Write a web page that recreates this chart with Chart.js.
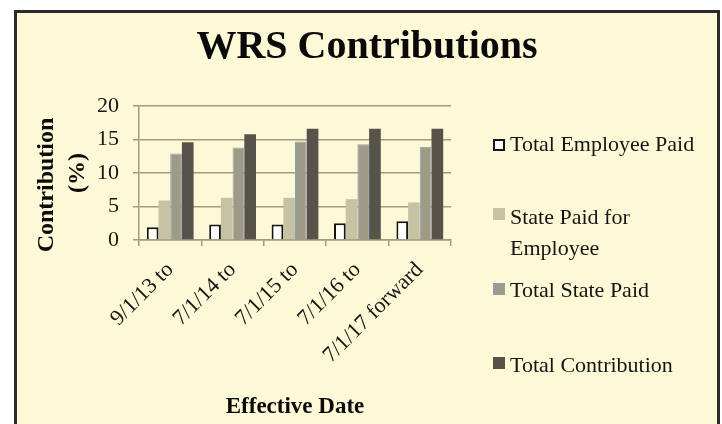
<!DOCTYPE html>
<html>
<head>
<meta charset="utf-8">
<script src="https://cdn.jsdelivr.net/npm/chart.js@4.4.1/dist/chart.umd.min.js"></script>
<style>
  html, body { margin: 0; padding: 0; background: #ffffff; overflow: hidden; }
  #frame {
    position: absolute; left: 14px; top: 10px; width: 700px; height: 440px;
    border: 3px solid #2b2b2b; background: #fdf8d6;
  }
  #myChart { position: absolute; left: 0; top: 0; }
</style>
</head>
<body>
<div id="frame"></div>
<canvas id="myChart" width="722" height="424"></canvas>
<script>
/**
 * WRS Contributions - grouped bar chart
 */
const categories = ['9/1/13 to', '7/1/14 to', '7/1/15 to', '7/1/16 to', '7/1/17 forward'];
const seriesNames = ['Total Employee Paid', 'State Paid for Employee', 'Total State Paid', 'Total Contribution'];
const employeePaid = [1.9, 2.3, 2.3, 2.5, 2.8];
const statePaidForEmployee = [5.9, 6.3, 6.3, 6.1, 5.6];
const totalStatePaid = [12.9, 13.8, 14.7, 14.3, 13.9];
const totalContribution = [14.6, 15.8, 16.6, 16.6, 16.6];
const yTicks = [0, 5, 10, 15, 20];

const serif = "'Liberation Serif', 'Times New Roman', serif";
const gridColor = '#a69a7c';

// legend drawn by hand so the two-line item and spacing match
const sideLegend = {
    id: 'sideLegend',
    afterDraw(chart) {
        const ctx = chart.ctx;
        const rows = [
            { box: 139, lines: [151] },
            { box: 208, lines: [224, 255] },
            { box: 283, lines: [297] },
            { box: 357, lines: [372] }
        ];
        const texts = [[seriesNames[0]], ['State Paid for', 'Employee'], [seriesNames[2]], [seriesNames[3]]];
        ctx.save();
        chart.data.datasets.forEach((ds, i) => {
            const r = rows[i];
            ctx.fillStyle = ds.backgroundColor;
            ctx.fillRect(493, r.box, 12, 12);
            ctx.lineWidth = ds.borderWidth || 0;
            if (ds.borderWidth) {
                ctx.strokeStyle = ds.borderColor;
                ctx.strokeRect(493 + 1, r.box + 1, 10, 10);
            }
            ctx.fillStyle = '#151515';
            ctx.font = '22px ' + serif;
            ctx.textAlign = 'left';
            ctx.textBaseline = 'alphabetic';
            texts[i].forEach((t, j) => ctx.fillText(t, 510, r.lines[j]));
        });
        ctx.restore();
    }
};

function initBarChart() {
    const ctx = document.getElementById('myChart').getContext('2d');
    new Chart(ctx, {
        type: 'bar',
        data: {
            labels: categories,
            datasets: [{
                label: seriesNames[0],
                data: employeePaid,
                backgroundColor: '#ffffff',
                borderColor: '#151515',
                borderWidth: 2
            }, {
                label: seriesNames[1],
                data: statePaidForEmployee,
                backgroundColor: '#c8c2a5',
                borderWidth: 0
            }, {
                label: seriesNames[2],
                data: totalStatePaid,
                backgroundColor: '#9e9a88',
                borderColor: '#8aa2b8',
                borderWidth: 1
            }, {
                label: seriesNames[3],
                data: totalContribution,
                backgroundColor: '#57534b',
                borderWidth: 0
            }]
        },
        options: {
            responsive: false,
            animation: false,
            categoryPercentage: 0.75,
            barPercentage: 1.0,
            layout: { padding: { left: 14, right: 2, top: 0, bottom: 0 } },
            plugins: {
                legend: { display: false },
                tooltip: { enabled: false },
                title: {
                    display: true,
                    text: 'WRS Contributions',
                    color: '#0a0a0a',
                    font: { family: serif, size: 40, weight: 'bold', lineHeight: 1.2 },
                    padding: { top: 24, bottom: 34 }
                }
            },
            scales: {
                x: {
                    grid: { display: true, drawOnChartArea: false, drawTicks: true, tickLength: 6, color: gridColor, lineWidth: 1.5 },
                    border: { display: true, color: gridColor, width: 1.5 },
                    ticks: {
                        minRotation: 45, maxRotation: 45, autoSkip: false, padding: 11,
                        color: '#151515', font: { family: serif, size: 22 }
                    },
                    title: {
                        display: true, text: 'Effective Date', color: '#0a0a0a',
                        font: { family: serif, size: 23, weight: 'bold', lineHeight: 1.1 },
                        padding: { top: 0, bottom: 4 }
                    },
                    afterFit: s => { s.height = 184; }
                },
                y: {
                    min: 0, max: 20,
                    afterBuildTicks: s => { s.ticks = yTicks.map(v => ({ value: v })); },
                    grid: { color: gridColor, lineWidth: 1.5, tickLength: 6 },
                    border: { display: true, color: gridColor, width: 1.5 },
                    ticks: { padding: 14, color: '#151515', font: { family: serif, size: 22 } },
                    title: {
                        display: true, text: ['Contribution    ', '(%)'], color: '#0a0a0a',
                        font: { family: serif, size: 24, weight: 'bold', lineHeight: 1.3 },
                        padding: { top: 17, bottom: 0 }
                    },
                    afterFit: s => { s.width = 125; }
                },
                side: {
                    type: 'linear', position: 'right',
                    grid: { display: false }, border: { display: false },
                    ticks: { display: false },
                    afterFit: s => { s.width = 269; }
                }
            }
        },
        plugins: [sideLegend]
    });
}

document.addEventListener('DOMContentLoaded', initBarChart);
</script>
</body>
</html>
